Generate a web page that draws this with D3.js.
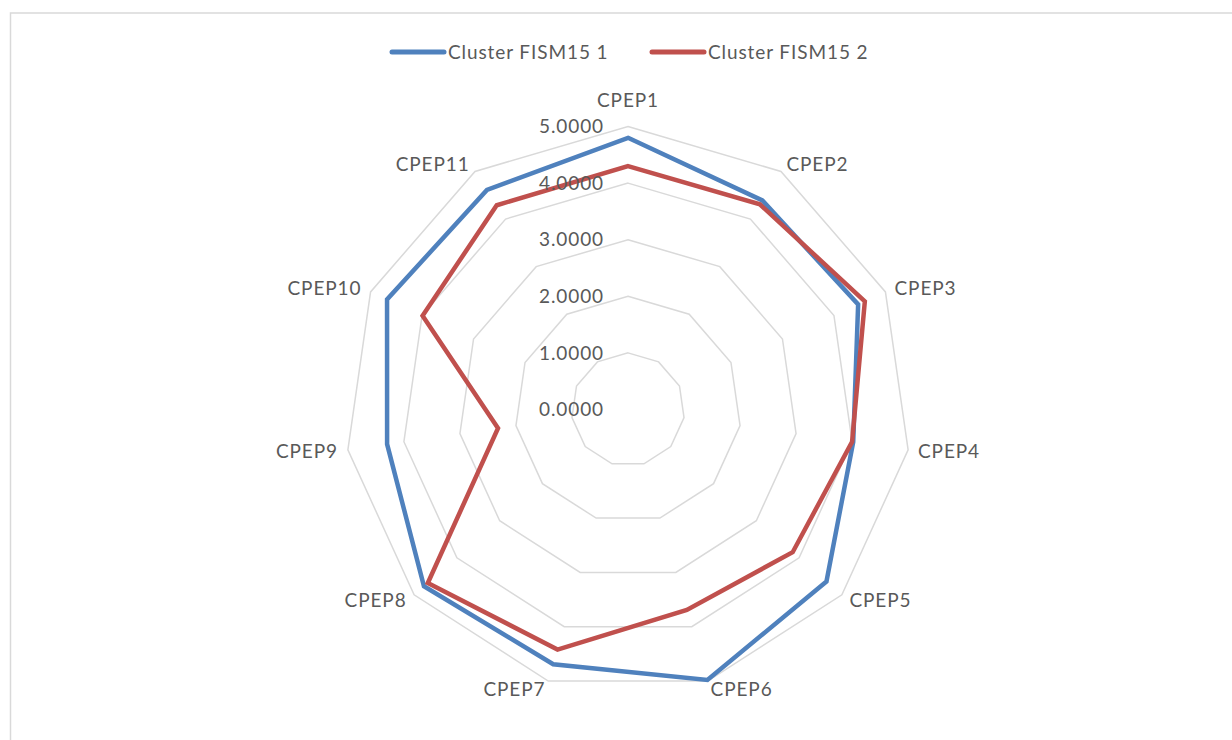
<!DOCTYPE html>
<html>
<head>
<meta charset="utf-8">
<script src="https://cdn.jsdelivr.net/npm/d3@7/dist/d3.min.js"></script>
<style>
  body { margin: 0; background: #fff; }
  svg { display: block; }
  text { font-family: Lato, "Open Sans", sans-serif; fill: #595959; font-size: 19px; letter-spacing: 0.9px; }
</style>
</head>
<body>
<svg width="1232" height="740"></svg>
<script>
var categories = ["CPEP1", "CPEP2", "CPEP3", "CPEP4", "CPEP5", "CPEP6",
                  "CPEP7", "CPEP8", "CPEP9", "CPEP10", "CPEP11"];
var seriesNames = ["Cluster FISM15 1", "Cluster FISM15 2"];
var cluster1 = [4.80, 4.39, 4.47, 4.02, 4.64, 4.98, 4.69, 4.77, 4.30, 4.68, 4.61];
var cluster2 = [4.30, 4.31, 4.60, 4.00, 3.85, 3.69, 4.42, 4.68, 2.32, 3.99, 4.29];
var tickValues = [0, 1, 2, 3, 4, 5];
var colors = ["#4f81bd", "#c0504d"];

var svg = d3.select("svg");
var cx = 628, cy = 409.5, radius = 283;
var n = categories.length;

// chart frame (only top and left edges visible in the picture)
svg.append("rect")
	.attr("x", 10.5).attr("y", 13)
	.attr("width", 1240).attr("height", 760)
	.attr("fill", "none")
	.attr("stroke", "#d9d9d9")
	.attr("stroke-width", 1.5);

var r = d3.scaleLinear().domain([0, 5]).range([0, radius]);

function angle(i){ return i * 2 * Math.PI / n; }
function pt(i, v){
	var a = angle(i);
	return [cx + r(v) * Math.sin(a), cy - r(v) * Math.cos(a)];
}

var g = svg.append("g");

// grid rings
var lineFn = d3.line().curve(d3.curveLinearClosed);
g.selectAll("path.ring").data(tickValues.filter(function(d){ return d > 0; })).enter()
	.append("path")
	.attr("class", "ring")
	.attr("d", function(v){ return lineFn(categories.map(function(c, i){ return pt(i, v); })); })
	.attr("fill", "none")
	.attr("stroke", "#d9d9d9")
	.attr("stroke-width", 1.5);

// series
var data = [cluster1, cluster2];
g.selectAll("path.series").data(data).enter()
	.append("path")
	.attr("class", "series")
	.attr("d", function(vals){ return lineFn(vals.map(function(v, i){ return pt(i, v); })); })
	.attr("fill", "none")
	.attr("stroke", function(d, i){ return colors[i]; })
	.attr("stroke-width", 4.5)
	.attr("stroke-linejoin", "miter");

// tick labels
g.selectAll("text.tick").data(tickValues).enter()
	.append("text")
	.attr("class", "tick")
	.attr("x", cx - 24)
	.attr("y", function(v){ return cy - r(v); })
	.attr("dy", "0.35em")
	.attr("text-anchor", "end")
	.text(function(v){ return v.toFixed(4); });

// category labels
g.selectAll("text.cat").data(categories).enter()
	.append("text")
	.attr("class", "cat")
	.each(function(c, i){
		var a = angle(i), s = Math.sin(a), co = Math.cos(a);
		var p = pt(i, 5);
		var el = d3.select(this);
		if (Math.abs(s) < 0.1) {
			el.attr("x", p[0]).attr("y", p[1] - 26 * co).attr("text-anchor", "middle");
		} else {
			el.attr("x", p[0] + 10 * s)
				.attr("y", p[1] - 9 * co)
				.attr("text-anchor", s > 0 ? "start" : "end");
		}
	})
	.attr("dy", "0.35em")
	.text(function(d){ return d; });

// legend
var legend = svg.append("g");
var legendX = [390, 650];
seriesNames.forEach(function(name, i){
	legend.append("line")
		.attr("x1", legendX[i] + 2).attr("x2", legendX[i] + 54)
		.attr("y1", 52).attr("y2", 52)
		.attr("stroke", colors[i])
		.attr("stroke-width", 5)
		.attr("stroke-linecap", "round");
	legend.append("text")
		.attr("x", legendX[i] + 58)
		.attr("y", 52)
		.attr("dy", "0.35em")
		.text(name);
});
</script>
</body>
</html>
